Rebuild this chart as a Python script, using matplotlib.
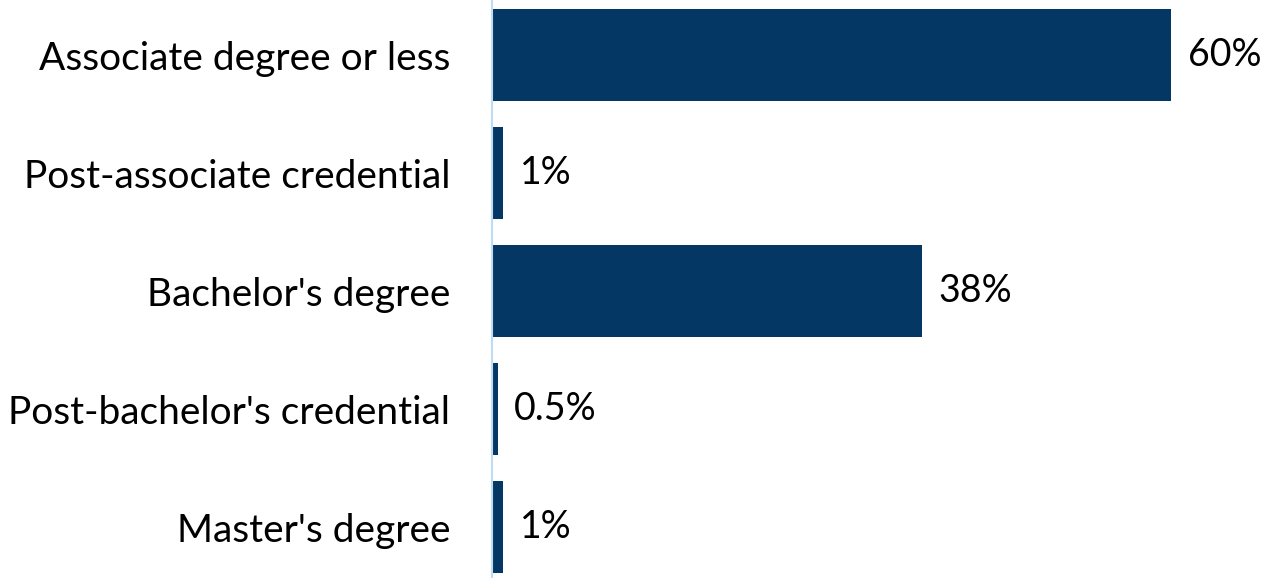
import matplotlib.pyplot as plt

categories = ["Associate degree or less", "Post-associate credential",
              "Bachelor's degree", "Post-bachelor's credential", "Master's degree"]
shares = [60, 1, 38, 0.5, 1]
value_labels = ["60%", "1%", "38%", "0.5%", "1%"]

plt.rcParams['font.family'] = ['Lato', 'DejaVu Sans']

fig = plt.figure(figsize=(12.63, 5.78), dpi=100)
ax = fig.add_axes([492 / 1263, 0, 771 / 1263, 1])

pos = range(len(categories))
ax.barh(pos, shares, height=0.78, color="#043763")

for y, v, lab in zip(pos, shares, value_labels):
    ax.annotate(lab, (v, y), xytext=(12, 0), textcoords="offset points",
                va="center", ha="left", fontsize=27, color="black")

ax.set_xlim(0, 68.1)
ax.set_ylim(4.43, -0.47)
ax.set_yticks(list(pos))
ax.set_yticklabels(categories, fontsize=28)
ax.tick_params(axis="y", length=0, pad=30)
ax.set_xticks([])

for side in ["top", "right", "bottom"]:
    ax.spines[side].set_visible(False)
ax.spines["left"].set_color("#bfdcf5")
ax.spines["left"].set_linewidth(1.5)

fig.savefig("out.png", dpi=100)
